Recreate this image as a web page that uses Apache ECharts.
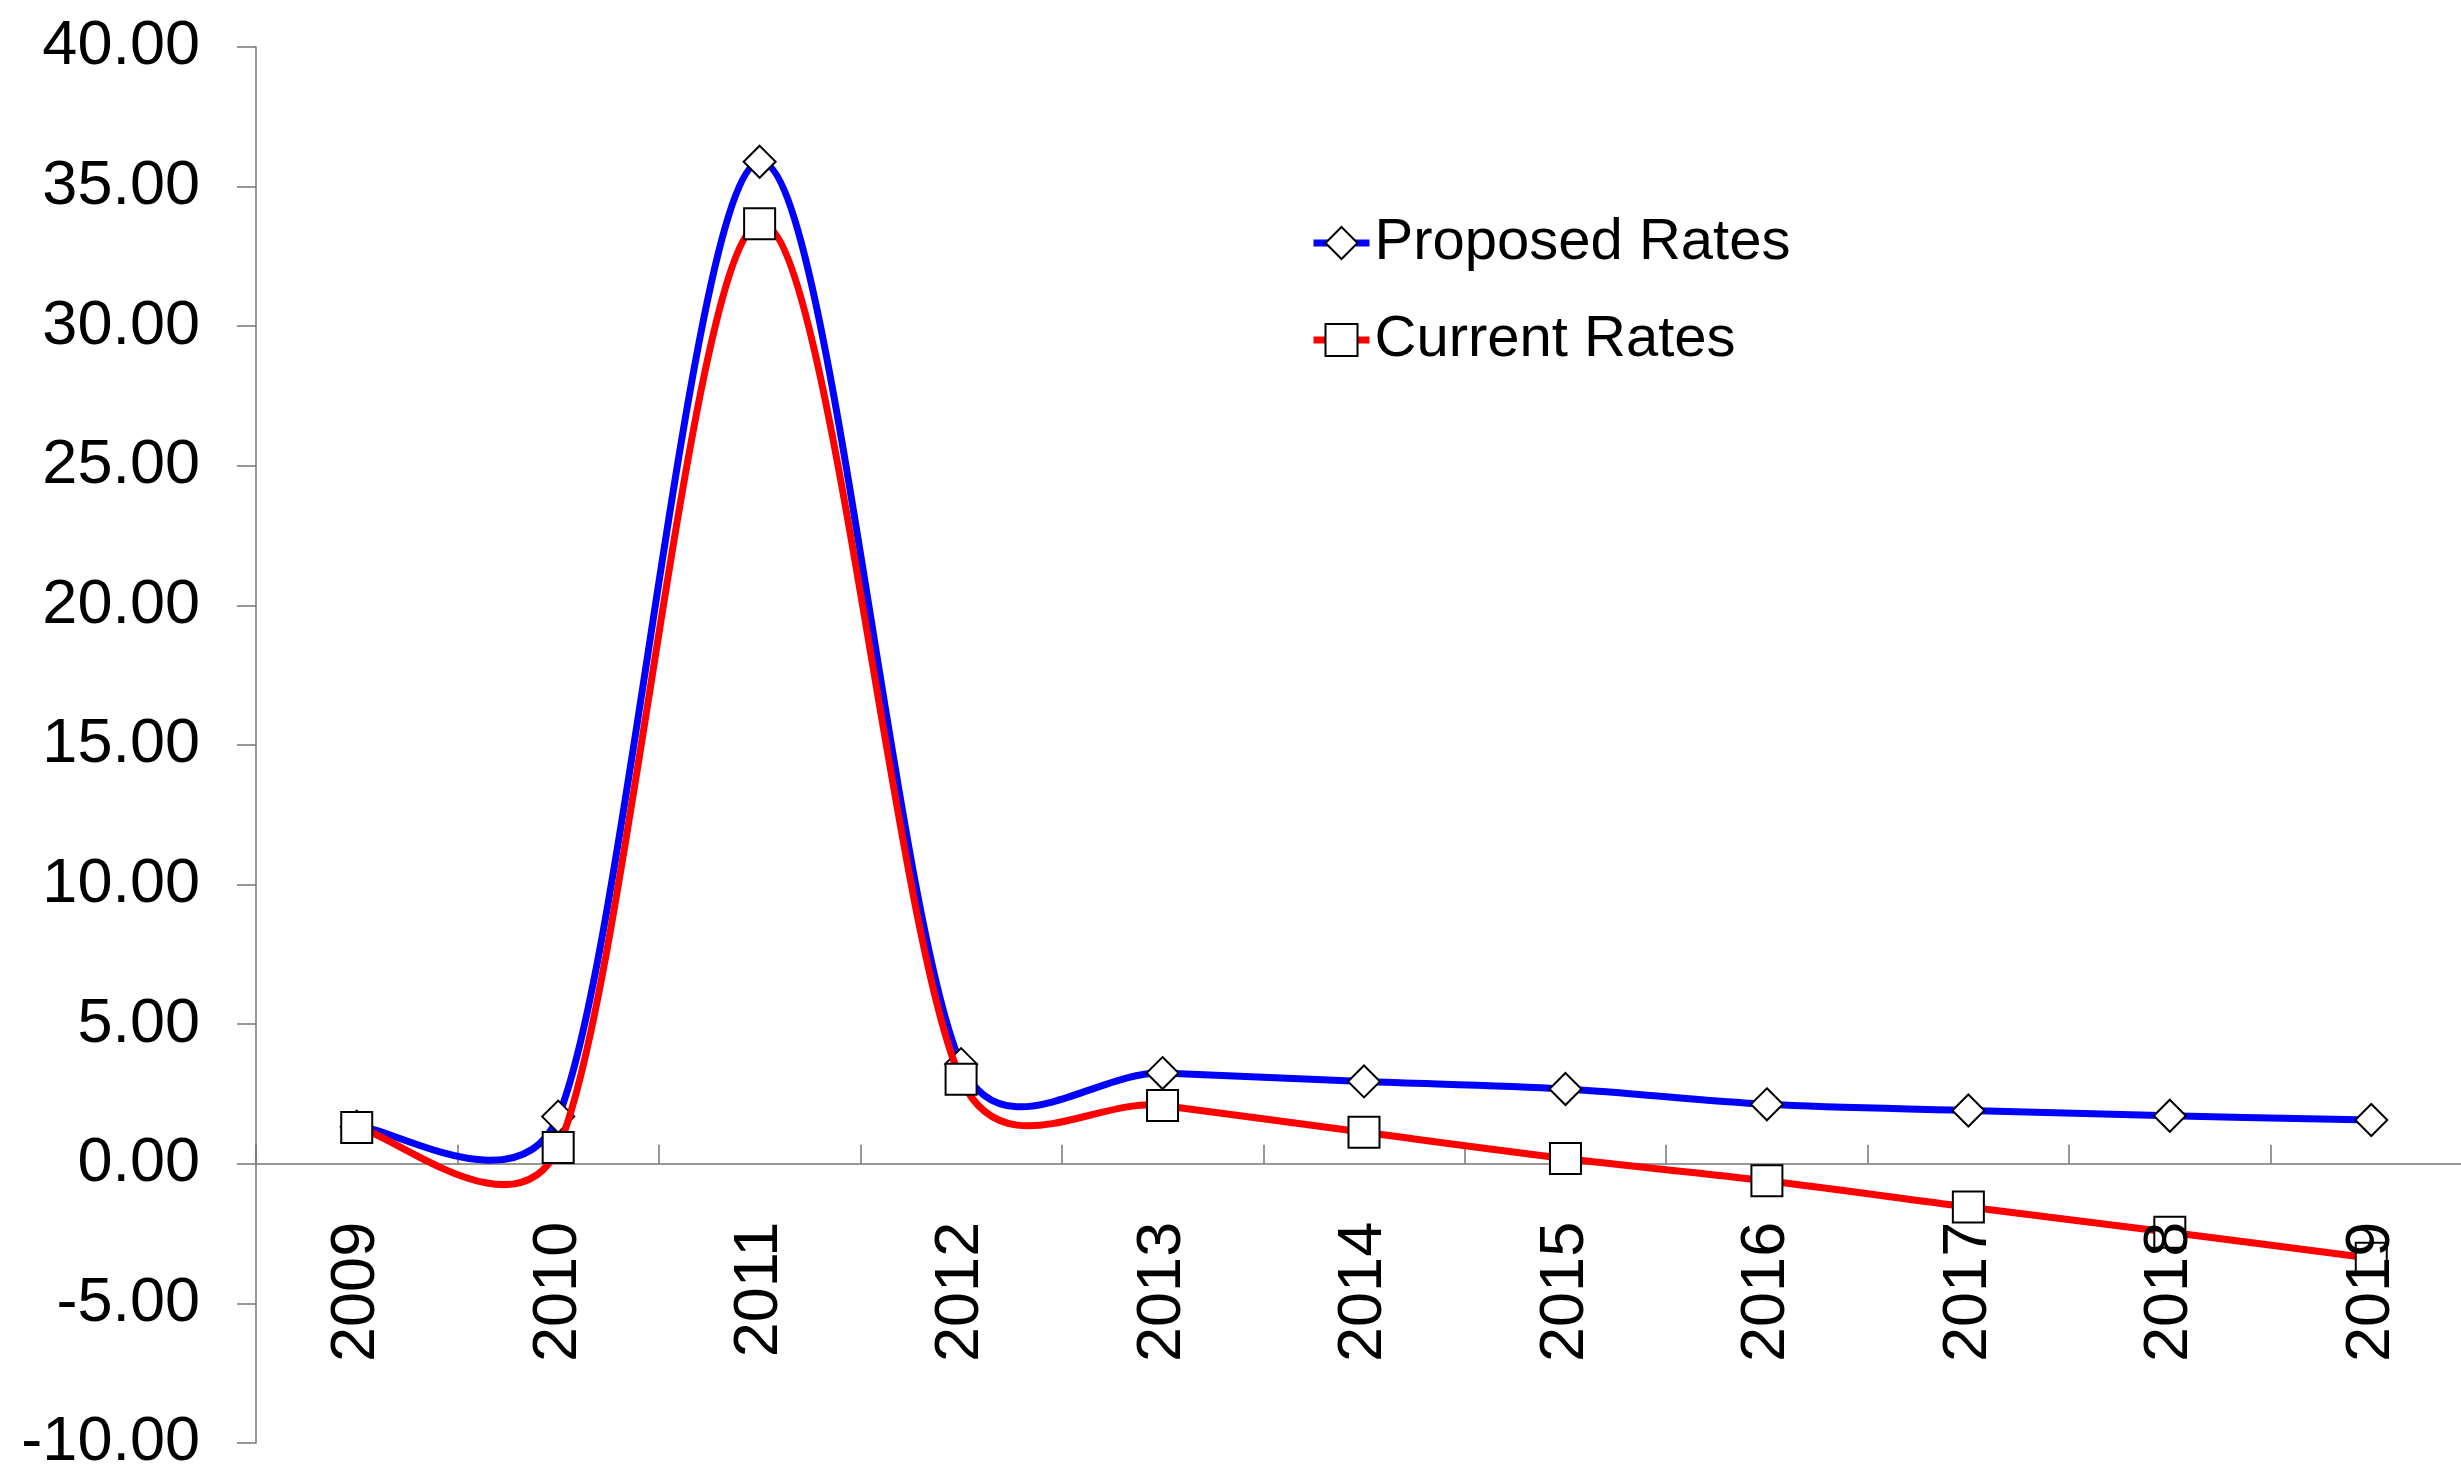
<!DOCTYPE html>
<html>
<head>
<meta charset="utf-8">
<title>Proposed vs Current Rates</title>
<script src="https://cdn.jsdelivr.net/npm/echarts@6/dist/echarts.min.js"></script>
<style>
  html, body { margin: 0; padding: 0; background: #ffffff; }
  #chart { width: 2461px; height: 1480px; }
</style>
</head>
<body>
<div id="chart"></div>
<script>
// Year-by-year rates (%)
const years = ['2009', '2010', '2011', '2012', '2013', '2014', '2015', '2016', '2017', '2018', '2019'];
const proposedRates = [1.33, 1.69, 35.89, 3.57, 3.25, 2.95, 2.68, 2.13, 1.91, 1.72, 1.57];
const currentRates = [1.30, 0.58, 33.67, 3.03, 2.09, 1.13, 0.19, -0.61, -1.55, -2.45, -3.38];

// Value axis range and step
const yMin = -10;
const yMax = 40;
const yStep = 5;

const FONT = '"Liberation Sans", Arial, Helvetica, sans-serif';
const AXIS_COLOR = '#767676';
const LINE_WIDTH = 7;

const GRID = { left: 256, top: 47, width: 2216, height: 1396 };
// The year labels sit on the zero line, so shift their (label-only) axis up from the grid bottom.
const zeroOffset = -GRID.height * (0 - yMin) / (yMax - yMin);

// Spreadsheet-style smoothing: Catmull-Rom tangents (1/6 of the neighbour chord),
// with each control arm capped at half the length of its own segment.
function capArm(v, maxLen) {
  const len = Math.hypot(v[0], v[1]);
  if (len > maxLen && len > 0) {
    const k = maxLen / len;
    return [v[0] * k, v[1] * k];
  }
  return v;
}

function smoothCurve(name, values, color, z) {
  return {
    type: 'custom',
    name: name,
    z: z,
    silent: true,
    animation: false,
    coordinateSystem: 'cartesian2d',
    xAxisIndex: 0,
    yAxisIndex: 0,
    data: values.map(function (v, i) { return [i, v]; }),
    encode: { x: 0, y: 1 },
    renderItem: function (params, api) {
      const n = params.dataInsideLength;
      const i = params.dataIndexInside;
      if (i >= n - 1) return null;
      const pt = function (k) { return api.coord([api.value(0, k), api.value(1, k)]); };
      const p0 = pt(Math.max(i - 1, 0));
      const p1 = pt(i);
      const p2 = pt(i + 1);
      const p3 = pt(Math.min(i + 2, n - 1));
      const half = Math.hypot(p2[0] - p1[0], p2[1] - p1[1]) / 2;
      const t1 = capArm([(p2[0] - p0[0]) / 6, (p2[1] - p0[1]) / 6], half);
      const t2 = capArm([(p3[0] - p1[0]) / 6, (p3[1] - p1[1]) / 6], half);
      const d = 'M' + p1[0] + ',' + p1[1] +
        ' C' + (p1[0] + t1[0]) + ',' + (p1[1] + t1[1]) +
        ' ' + (p2[0] - t2[0]) + ',' + (p2[1] - t2[1]) +
        ' ' + p2[0] + ',' + p2[1];
      return {
        type: 'path',
        shape: { pathData: d },
        style: { fill: 'none', stroke: color, lineWidth: LINE_WIDTH, lineCap: 'round', lineJoin: 'round' }
      };
    }
  };
}

function markerSeries(name, values, color, symbol, size, z) {
  return {
    type: 'line',
    name: name,
    z: z,
    data: values,
    symbol: symbol,
    symbolSize: size,
    showSymbol: true,
    showAllSymbol: true,
    animation: false,
    silent: true,
    itemStyle: { color: '#ffffff', borderColor: '#000000', borderWidth: 2 },
    lineStyle: { color: color, width: LINE_WIDTH, opacity: 0 },
    emphasis: { disabled: true }
  };
}

const chart = echarts.init(document.getElementById('chart'), null, { renderer: 'canvas' });

chart.setOption({
  backgroundColor: '#ffffff',
  animation: false,
  textStyle: { fontFamily: FONT },
  grid: {
    left: GRID.left, top: GRID.top, width: GRID.width, height: GRID.height,
    containLabel: false,
    outerBoundsMode: 'none'
  },
  legend: {
    orient: 'vertical',
    left: 1310,
    top: 214,
    padding: 0,
    itemWidth: 56,
    itemHeight: 40,
    itemGap: 39,
    selectedMode: false,
    data: ['Proposed Rates', 'Current Rates'],
    lineStyle: { width: LINE_WIDTH, opacity: 1 },
    textStyle: { fontFamily: FONT, fontSize: 58, lineHeight: 58, color: '#000000' }
  },
  xAxis: [
    {
      type: 'category',
      data: years,
      boundaryGap: true,
      z: 1,
      axisLine: { show: true, onZero: true, lineStyle: { color: AXIS_COLOR, width: 1.5 } },
      axisTick: { show: true, inside: true, length: 19, interval: 0, lineStyle: { color: AXIS_COLOR, width: 1.5 } },
      axisLabel: { show: false },
      splitLine: { show: false }
    },
    {
      type: 'category',
      data: years,
      position: 'bottom',
      offset: zeroOffset,
      boundaryGap: true,
      z: 10,
      axisLine: { show: false, onZero: false },
      axisTick: { show: false },
      axisLabel: {
        show: true,
        interval: 0,
        rotate: 90,
        margin: 58,
        fontFamily: FONT,
        fontSize: 63,
        color: '#000000'
      },
      splitLine: { show: false }
    }
  ],
  yAxis: {
    type: 'value',
    min: yMin,
    max: yMax,
    interval: yStep,
    axisLine: { show: true, onZero: false, lineStyle: { color: AXIS_COLOR, width: 1.5 } },
    axisTick: { show: true, inside: false, length: 19, lineStyle: { color: AXIS_COLOR, width: 1.5 } },
    axisLabel: {
      margin: 56,
      fontFamily: FONT,
      fontSize: 63,
      color: '#000000',
      formatter: function (v) { return v.toFixed(2); }
    },
    splitLine: { show: false }
  },
  series: [
    markerSeries('Proposed Rates', proposedRates, '#0000ff', 'diamond', 32, 3),
    markerSeries('Current Rates', currentRates, '#ff0000', 'rect', 31, 5),
    smoothCurve('Proposed Rates', proposedRates, '#0000ff', 2),
    smoothCurve('Current Rates', currentRates, '#ff0000', 4)
  ]
});
</script>
</body>
</html>
